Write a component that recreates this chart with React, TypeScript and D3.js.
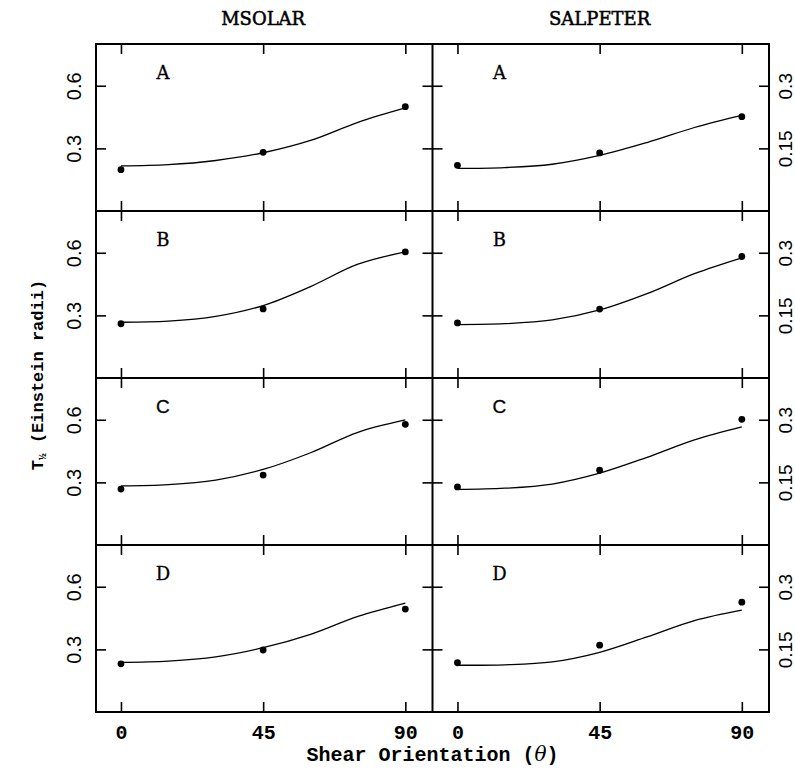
import React, { useEffect, useRef } from "react";
import * as d3 from "d3";

const width = 795;
const height = 780;

const columns = ["MSOLAR", "SALPETER"];
const panelLabels = ["A", "B", "C", "D"];
const pointAngles = [0, 45, 90];
const fitAngles = [0, 15, 30, 45, 60, 75, 90];
const xTicks = [0, 45, 90];
const leftTicks = [0.3, 0.6];
const rightTicks = [0.15, 0.3];

// measured points (rows A..D)
const msolarPoints = [
  [0.198, 0.281, 0.5],
  [0.26, 0.331, 0.604],
  [0.268, 0.335, 0.578],
  [0.231, 0.297, 0.493],
];
const salpeterPoints = [
  [0.1095, 0.139, 0.226],
  [0.132, 0.165, 0.291],
  [0.139, 0.179, 0.301],
  [0.118, 0.16, 0.263],
];

const msolarFit = [
  [0.216, 0.222, 0.242, 0.279, 0.338, 0.425, 0.494],
  [0.267, 0.272, 0.295, 0.347, 0.438, 0.545, 0.604],
  [0.283, 0.289, 0.311, 0.362, 0.442, 0.54, 0.599],
  [0.238, 0.244, 0.264, 0.308, 0.372, 0.458, 0.522],
];
const salpeterFit = [
  [0.102, 0.104, 0.112, 0.133, 0.164, 0.2, 0.229],
  [0.128, 0.13, 0.139, 0.163, 0.202, 0.25, 0.288],
  [0.133, 0.136, 0.146, 0.172, 0.21, 0.252, 0.283],
  [0.112, 0.113, 0.12, 0.143, 0.18, 0.219, 0.244],
];

const leftDomain = [0, 0.8];
const rightDomain = [0, 0.4];

export default function App() {
  const svgRef = useRef<SVGSVGElement>(null);

  useEffect(() => {
    if (!svgRef.current) return;
    const svg = d3.select(svgRef.current);
    svg.selectAll("*").remove();

    const fr = { left: 96, mid: 432.5, right: 769, top: 44, bottom: 712 };
    const rowH = (fr.bottom - fr.top) / 4;
    const xDomain = [-7.9, 98.6];
    const xs = [
      d3.scaleLinear().domain(xDomain).range([fr.left, fr.mid]),
      d3.scaleLinear().domain(xDomain).range([fr.mid, fr.right]),
    ];
    const monoFont = "'Liberation Mono', 'DejaVu Sans Mono', monospace";
    const serifFont = "'DejaVu Serif', serif";
    const sansFont = "'Liberation Sans', Arial, sans-serif";

    const g = svg.append("g");

    // column titles
    columns.forEach((c, i) => {
      g.append("text")
        .attr("x", xs[i](45))
        .attr("y", 25)
        .attr("text-anchor", "middle")
        .style("font-family", serifFont)
        .style("font-size", "18px")
        .attr("stroke", "#000")
        .attr("stroke-width", 0.5)
        .text(c);
    });

    panelLabels.forEach((lab, r) => {
      const y0 = fr.top + r * rowH;
      const y1 = y0 + rowH;
      const ys = [
        d3.scaleLinear().domain(leftDomain).range([y1, y0]),
        d3.scaleLinear().domain(rightDomain).range([y1, y0]),
      ];
      const pts = [msolarPoints[r], salpeterPoints[r]];
      const fits = [msolarFit[r], salpeterFit[r]];
      const ticks = [leftTicks, rightTicks];
      const isBottom = r === 3;

      [0, 1].forEach((c) => {
        const x = xs[c];
        const y = ys[c];
        const pg = g.append("g");

        // x ticks top and bottom
        const bottomAxis = pg.append("g")
          .attr("transform", `translate(0,${y1})`)
          .call(
            d3.axisBottom(x).tickValues(xTicks).tickSizeInner(-10).tickSizeOuter(0)
              .tickFormat(isBottom ? d3.format("d") : () => "")
          );
        pg.append("g")
          .attr("transform", `translate(0,${y0})`)
          .call(d3.axisTop(x).tickValues(xTicks).tickSizeInner(-10).tickSizeOuter(0).tickFormat(() => ""));

        bottomAxis.selectAll("text")
          .attr("y", 27)
          .attr("dy", null)
          .attr("fill", "#000")
          .style("font-family", monoFont)
          .style("font-size", "20px")
          .style("font-weight", "bold");

        // y ticks both sides
        const xl = c === 0 ? fr.left : fr.mid;
        const xr = c === 0 ? fr.mid : fr.right;
        const leftAx = pg.append("g")
          .attr("transform", `translate(${xl},0)`)
          .call(d3.axisLeft(y).tickValues(ticks[c]).tickSizeInner(-10).tickSizeOuter(0)
            .tickFormat(c === 0 ? (d) => String(d) : () => ""));
        const rightAx = pg.append("g")
          .attr("transform", `translate(${xr},0)`)
          .call(d3.axisRight(y).tickValues(ticks[c]).tickSizeInner(-10).tickSizeOuter(0)
            .tickFormat(c === 1 ? (d) => String(d) : () => ""));

        leftAx.selectAll("text")
          .attr("x", null)
          .attr("dy", null)
          .attr("text-anchor", "middle")
          .attr("transform", "translate(-15,0) rotate(-90)")
          .attr("fill", "#000")
          .style("font-family", sansFont)
          .style("font-size", "20px");
        rightAx.selectAll("text")
          .attr("x", null)
          .attr("dy", null)
          .attr("text-anchor", "middle")
          .attr("transform", "translate(23,0) rotate(-90)")
          .attr("fill", "#000")
          .style("font-family", sansFont)
          .style("font-size", "19px");

        pg.selectAll(".domain").remove();
        pg.selectAll(".tick line").attr("stroke", "#000").attr("stroke-width", 1.6);

        // fitted curve
        const line = d3.line<number>()
          .x((_, i) => x(fitAngles[i]))
          .y((d) => y(d))
          .curve(d3.curveCatmullRom.alpha(0.5));
        pg.append("path")
          .datum(fits[c])
          .attr("d", line)
          .attr("fill", "none")
          .attr("stroke", "#000")
          .attr("stroke-width", 1.3);

        pg.selectAll("circle.pt")
          .data(pts[c])
          .join("circle")
          .attr("class", "pt")
          .attr("cx", (_, i) => x(pointAngles[i]))
          .attr("cy", (d) => y(d))
          .attr("r", 3.4)
          .attr("fill", "#000");

        // panel letter
        pg.append("text")
          .attr("x", x(13.3))
          .attr("y", y0 + 35)
          .attr("text-anchor", "middle")
          .style("font-family", lab === "C" ? sansFont : serifFont)
          .style("font-size", lab === "C" ? "19px" : "18px")
          .attr("stroke", "#000")
          .attr("stroke-width", 0.3)
          .text(lab);
      });

      if (r > 0) {
        g.append("line")
          .attr("x1", fr.left).attr("x2", fr.right)
          .attr("y1", y0).attr("y2", y0)
          .attr("stroke", "#000").attr("stroke-width", 2);
      }
    });

    // frame
    g.append("rect")
      .attr("x", fr.left).attr("y", fr.top)
      .attr("width", fr.right - fr.left).attr("height", fr.bottom - fr.top)
      .attr("fill", "none").attr("stroke", "#000").attr("stroke-width", 2);
    g.append("line")
      .attr("x1", fr.mid).attr("x2", fr.mid)
      .attr("y1", fr.top).attr("y2", fr.bottom)
      .attr("stroke", "#000").attr("stroke-width", 2);

    // axis titles
    const xl = g.append("text")
      .attr("x", (fr.left + fr.right) / 2)
      .attr("y", 761)
      .attr("text-anchor", "middle")
      .style("font-family", monoFont)
      .style("font-size", "20px")
      .style("font-weight", "bold");
    xl.append("tspan").text("Shear Orientation (");
    xl.append("tspan")
      .style("font-family", serifFont)
      .style("font-style", "italic")
      .style("font-weight", "normal")
      .text("θ");
    xl.append("tspan").text(")");

    const yl = g.append("text")
      .attr("transform", `translate(43,375) rotate(-90)`)
      .attr("text-anchor", "middle")
      .style("font-family", monoFont)
      .style("font-size", "17px")
      .style("font-weight", "bold");
    yl.append("tspan").text("T");
    yl.append("tspan").attr("dy", 3).style("font-size", "11px").text("½");
    yl.append("tspan").attr("dy", -3).text(" (Einstein radii)");
  }, []);

  return (
    <div style={{ position: "absolute", left: 0, top: 0 }}>
      <svg ref={svgRef} width={width} height={height} style={{ display: "block", background: "#fff" }} />
    </div>
  );
}
